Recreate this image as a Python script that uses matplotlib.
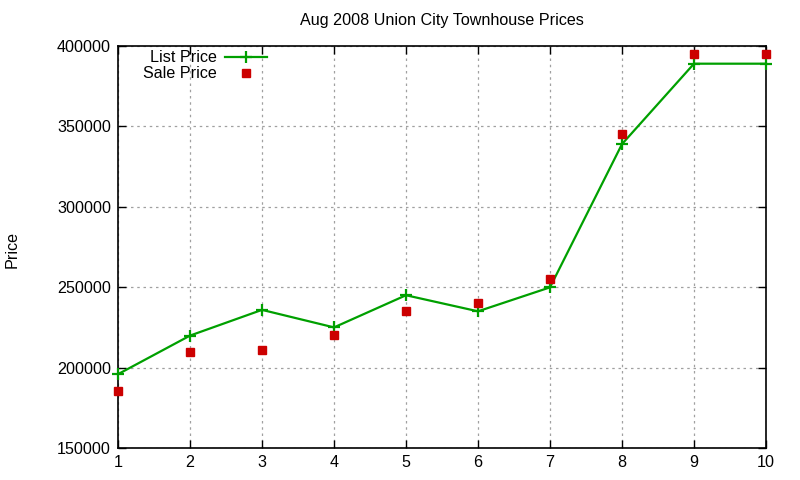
import matplotlib
matplotlib.use("Agg")
import matplotlib.pyplot as plt

# Aug 2008 Union City townhouses
houses = [1, 2, 3, 4, 5, 6, 7, 8, 9, 10]
list_price = [195900, 219900, 235900, 225000, 245000, 235000, 249900, 339000, 389000, 389000]
sale_price = [185500, 210000, 211000, 220000, 235000, 240000, 255000, 345000, 395000, 395000]

yticks = [150000, 200000, 250000, 300000, 350000, 400000]

plt.rcParams["font.family"] = ["Liberation Sans", "DejaVu Sans"]
fs = 11.6

fig = plt.figure(figsize=(8, 4.8), dpi=100)
ax = fig.add_axes([118 / 800, 1 - 448 / 480, (766 - 118) / 800, (448 - 46) / 480])

ax.plot(houses, list_price, color="#00a000", lw=1.6, marker="+", ms=9, mew=1.6,
        label="List Price", clip_on=False, zorder=3)
ax.plot(houses, sale_price, color="#cc0000", ls="none", marker="s", ms=5.8,
        label="Sale Price", clip_on=False, zorder=4)

ax.set_xlim(1, 10)
ax.set_ylim(150000, 400000)
ax.set_xticks(houses)
ax.set_yticks(yticks)
ax.set_yticklabels([str(v) for v in yticks])
ax.tick_params(direction="in", length=6, width=1, top=True, right=True, labelsize=fs, pad=5)
ax.grid(True, color="#a0a0a0", ls=(0, (2, 3)), lw=0.9)
for s in ax.spines.values():
    s.set_linewidth(1.2)

ax.set_title("Aug 2008 Union City Townhouse Prices", fontsize=fs, pad=15)
fig.text(12 / 800, 1 - 250 / 480, "Price", rotation=90, ha="center", va="center", fontsize=fs)

ax.legend(loc="upper left", bbox_to_anchor=(0.029, 1.005), frameon=False, markerfirst=False,
          handlelength=2.6, handletextpad=0.5, labelspacing=0.05, borderaxespad=0.3,
          borderpad=0.1, fontsize=fs)

fig.savefig("out.png", dpi=100)
